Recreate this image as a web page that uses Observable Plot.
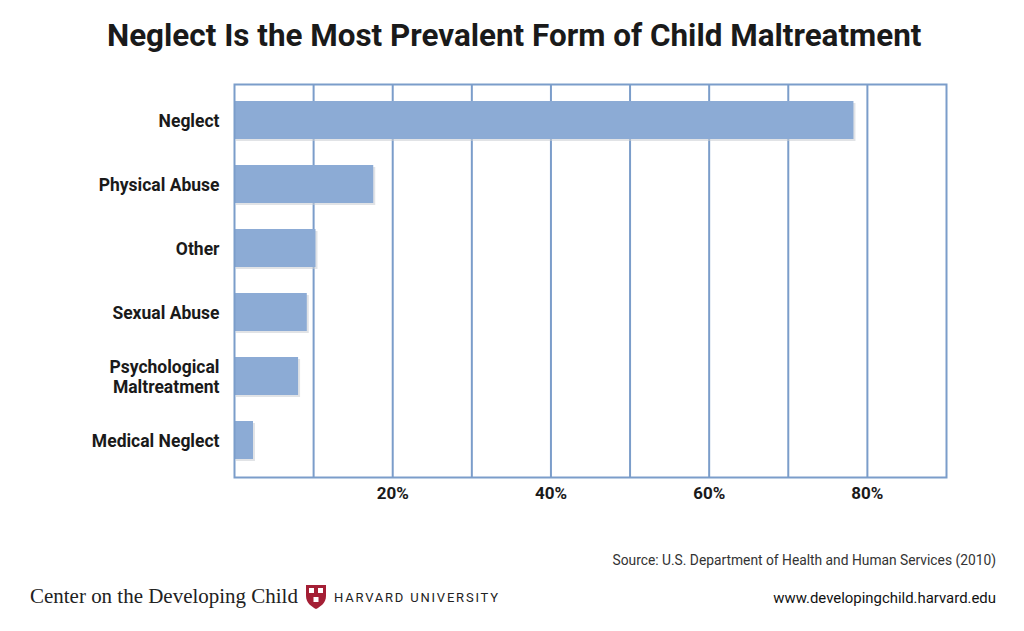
<!DOCTYPE html>
<html>
<head>
<meta charset="utf-8">
<script src="https://cdn.jsdelivr.net/npm/d3@7"></script>
<script src="https://cdn.jsdelivr.net/npm/@observablehq/plot@0.6"></script>
<style>
  html, body { margin: 0; padding: 0; background: #fff; }
  body { width: 1024px; height: 631px; position: relative; overflow: hidden; font-family: Roboto, "Open Sans", sans-serif; }
  #title { position: absolute; left: 0; top: 17px; width: 1024px; text-align: center; font-weight: 700; font-size: 29px; color: #1a1a1a; white-space: nowrap; }
  #chart { position: absolute; left: 0; top: 60px; }
  #source { position: absolute; right: 28px; top: 552px; font-size: 13px; color: #333; white-space: nowrap; }
  #url { position: absolute; right: 28px; top: 589px; font-size: 14px; color: #111; white-space: nowrap; }
  #center { position: absolute; left: 30px; top: 584px; font-family: "Liberation Serif", "DejaVu Serif", serif; font-size: 21px; color: #222; white-space: nowrap; }
  #shield { position: absolute; left: 305px; top: 584px; }
  #harvard { position: absolute; left: 334px; top: 590px; font-size: 13px; letter-spacing: 1.8px; color: #222; white-space: nowrap; }
</style>
</head>
<body>
<div id="title">Neglect Is the Most Prevalent Form of Child Maltreatment</div>
<div id="chart"></div>
<div id="source">Source: U.S. Department of Health and Human Services (2010)</div>
<div id="center">Center on the Developing Child</div>
<svg id="shield" width="22" height="26" viewBox="0 0 22 26">
  <path d="M1 1 H21 V12 C21 19 15 23 11 25 C7 23 1 19 1 12 Z" fill="#a41f35"/>
  <rect x="4" y="4" width="5" height="5" fill="#fff"/>
  <rect x="13" y="4" width="5" height="5" fill="#fff"/>
  <rect x="8.5" y="13" width="5" height="5" fill="#fff"/>
</svg>
<div id="harvard">HARVARD UNIVERSITY</div>
<div id="url">www.developingchild.harvard.edu</div>
<script>
const categories = ["Neglect", "Physical Abuse", "Other", "Sexual Abuse", "Psychological\nMaltreatment", "Medical Neglect"];
const percents = [78.3, 17.6, 10.3, 9.2, 8.1, 2.4];
const gridValues = [10, 20, 30, 40, 50, 60, 70, 80];
const tickValues = [20, 40, 60, 80];

const data = categories.map((c, i) => ({category: c, value: percents[i]}));

const barColor = "#8cabd5";
const lineColor = "#7b9dca";

const chart = Plot.plot({
  width: 1024,
  height: 470,
  marginLeft: 234,
  marginRight: 78,
  marginTop: 24,
  marginBottom: 53,
  style: {fontFamily: "Roboto, sans-serif", fontWeight: 700, color: "#1a1a1a", background: "#fff"},
  x: {domain: [0, 90], label: null},
  y: {domain: categories, padding: 0.4, paddingOuter: 0.25, label: null},
  marks: [
    Plot.ruleX(gridValues, {stroke: lineColor, strokeWidth: 2}),
    Plot.barX(data, {x: "value", y: "category", fill: "#c8ccd2", fillOpacity: 0.55, dx: 2, dy: 2}),
    Plot.barX(data, {x: "value", y: "category", fill: barColor}),
    Plot.frame({stroke: lineColor, strokeWidth: 2}),
    Plot.axisX({ticks: tickValues, tickFormat: d => d + "%", tickSize: 0, tickPadding: 9, fontSize: 17, fontWeight: 700, label: null}),
    Plot.axisY({tickSize: 0, tickPadding: 15, fontSize: 17.5, fontWeight: 700, lineHeight: 1.15, label: null})
  ]
});
document.getElementById("chart").appendChild(chart);

function fitWidth(id, target) {
  const el = document.getElementById(id);
  const fs = parseFloat(getComputedStyle(el).fontSize);
  const w = el.getBoundingClientRect().width;
  el.style.fontSize = (fs * target / w) + "px";
}
fitWidth("source", 384);
fitWidth("url", 223);
fitWidth("center", 268);
const t = document.getElementById("title");
t.style.width = "auto"; t.style.left = "107px";
fitWidth("title", 815);
</script>
</body>
</html>
